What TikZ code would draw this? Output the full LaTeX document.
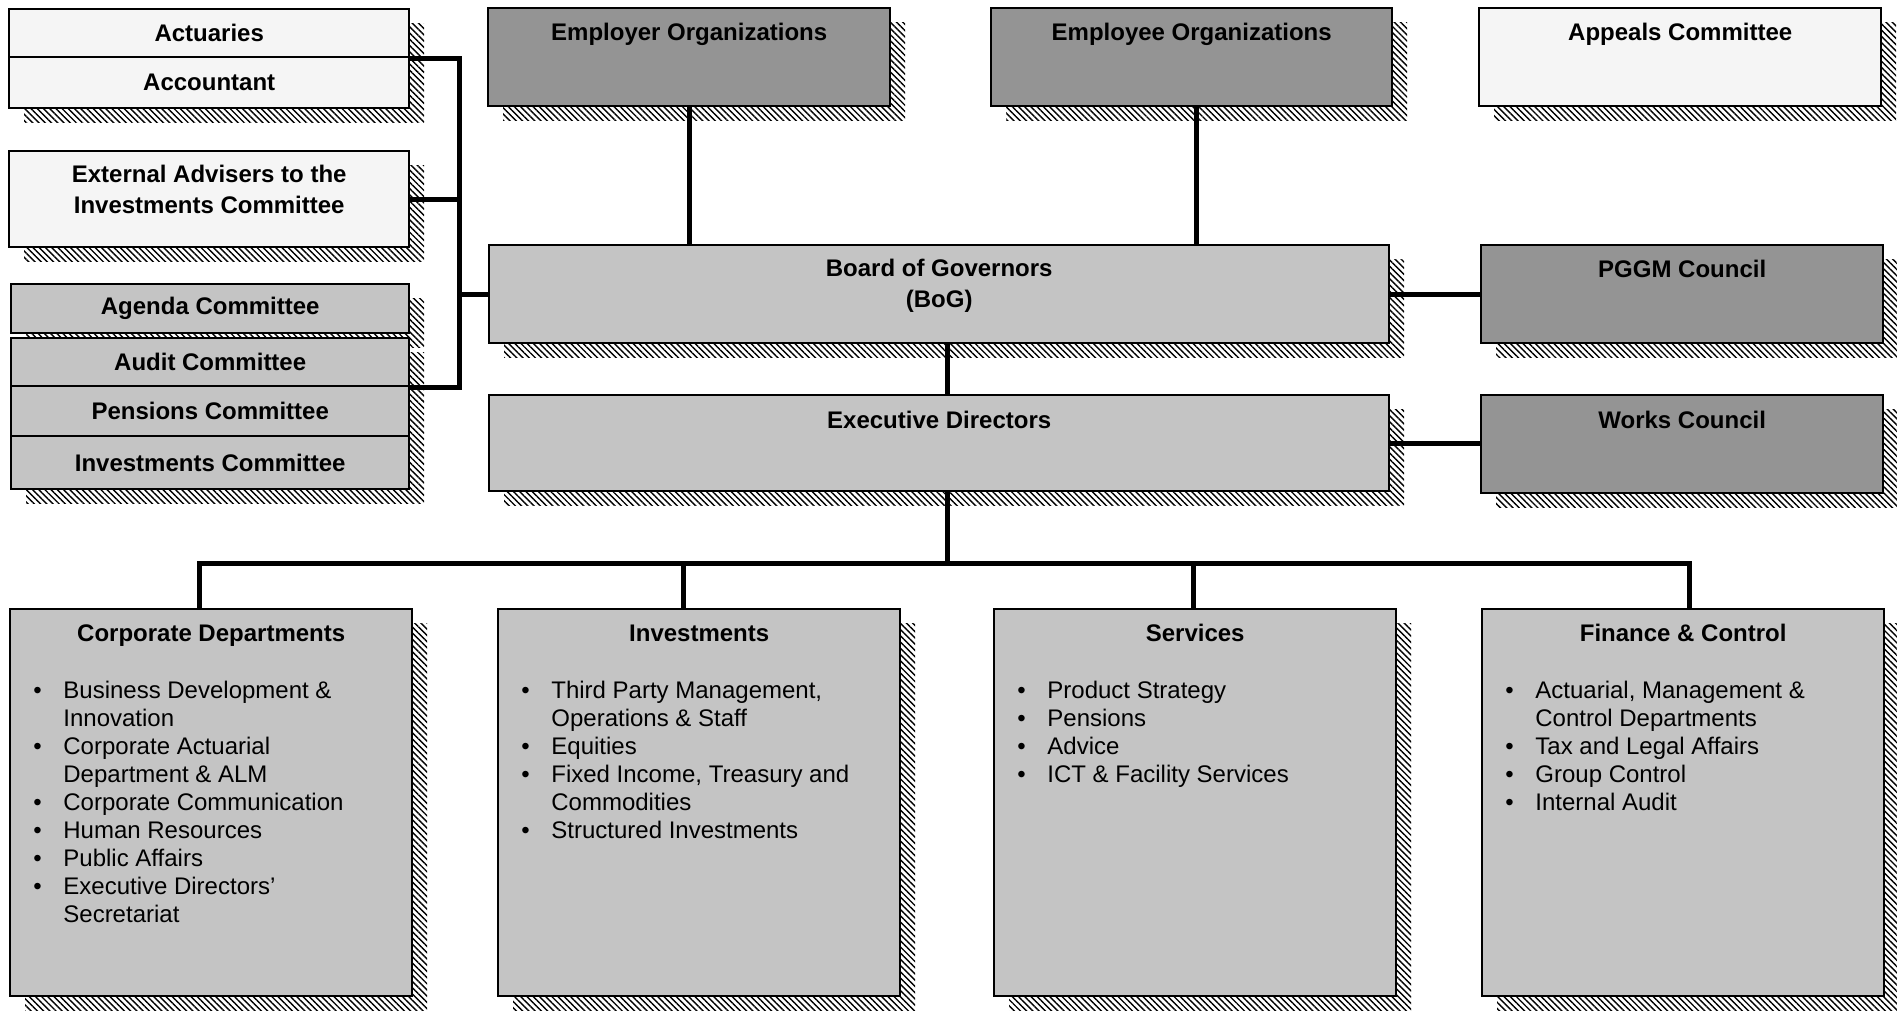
\documentclass[tikz,border=0pt]{standalone}
\usepackage{fontspec}
\setmainfont{Liberation Sans}
\usepackage{tikz}
\usetikzlibrary{positioning, calc, shadows, patterns.meta}
\usepackage{xcolor}

\definecolor{boxwhite}{gray}{0.96}
\definecolor{boxlight}{gray}{0.77}
\definecolor{boxdark}{gray}{0.58}

\newcommand{\deptlist}[1]{\begin{tabular}{@{}l@{\hspace{10.8pt}}l@{}}#1\end{tabular}}

\tikzset{
  every box/.style={draw, line width=1.2pt, inner sep=0pt, anchor=north west,
    drop shadow={shadow xshift=7.5pt, shadow yshift=-7pt, opacity=1,
      pattern={Lines[angle=-45, distance=2.2pt, line width=0.7pt]}}},
  box size/.style 2 args={minimum width=#1*0.5pt, minimum height=#2*0.5pt},
  box white/.style={every box, fill=boxwhite},
  box light/.style={every box, fill=boxlight},
  box dark/.style={every box, fill=boxdark},
  box title/.style={font=\fontsize{12}{15.5}\selectfont\bfseries, inner sep=0pt, align=center},
  item list/.style={inner sep=0pt, anchor=north west},
  link/.style={line width=2.5pt}
}

\begin{document}
\begin{tikzpicture}[x=0.5pt, y=-0.5pt, font=\fontsize{12}{14}\selectfont]

      \useasboundingbox (0,0) rectangle (1897,1011);

      % Advisers and committees on the left
      \node [box white, box size={400}{48}, box title] (actuaries) at (8,8) {Actuaries};
      \node [box white, box size={400}{51}, box title] (accountant) at (8,56) {Accountant};
      \node [box white, box size={400}{96}] (extadv) at (8,150) {};
      \node [box title, anchor=north] (extadv-title) at ([yshift=-7.5pt]extadv.north)
        {External Advisers to the\\Investments Committee};

      \node [box light, box size={398}{49}, box title] (agenda) at (10,283) {Agenda Committee};
      \node [box light, box size={398}{48}, box title] (audit) at (10,337) {Audit Committee};
      \node [box light, box size={398}{50}, box title] (pensions) at (10,385) {Pensions Committee};
      \node [box light, box size={398}{53}, box title] (invcom) at (10,435) {Investments Committee};

      % Organizations and councils
      \node [box dark, box size={402}{98}] (employer) at (487,7) {};
      \node [box dark, box size={401}{98}] (employee) at (990,7) {};
      \node [box white, box size={402}{98}] (appeals) at (1478,7) {};
      \node [box dark, box size={402}{98}] (pggm) at (1480,244) {};
      \node [box dark, box size={402}{98}] (works) at (1480,394) {};

      \node [box light, box size={900}{98}] (board) at (488,244) {};
      \node [box light, box size={900}{96}] (exec) at (488,394) {};

      \foreach \n/\l in {employer/Employer Organizations, employee/Employee Organizations,
                         appeals/Appeals Committee, pggm/PGGM Council, works/Works Council,
                         exec/Executive Directors}
        \node [box title, anchor=base] (\n-title) at ([yshift=-17pt]\n.north) {\l};
      \node [box title, anchor=north] (board-title) at ([yshift=-7.6pt]board.north)
        {Board of Governors\\(BoG)};

      % Departments
      \foreach \dept/\x/\l in {corp/9/Corporate Departments, inv/497/Investments,
                               serv/993/Services, fin/1481/Finance \& Control} {
        \node [box light, box size={402}{387}] (\dept) at (\x,608) {};
        \node [box title, anchor=base] (\dept-title) at ([yshift=-16.5pt]\dept.north) {\l};
      }

      \node [item list] (corp-list) at ([shift={(24,70)}]corp.north west) {\deptlist{
        \textbullet & Business Development \& \\
                    & Innovation \\
        \textbullet & Corporate Actuarial \\
                    & Department \& ALM \\
        \textbullet & Corporate Communication \\
        \textbullet & Human Resources \\
        \textbullet & Public Affairs \\
        \textbullet & Executive Directors' \\
                    & Secretariat}};
      \node [item list] (inv-list) at ([shift={(24,70)}]inv.north west) {\deptlist{
        \textbullet & Third Party Management, \\
                    & Operations \& Staff \\
        \textbullet & Equities \\
        \textbullet & Fixed Income, Treasury and \\
                    & Commodities \\
        \textbullet & Structured Investments}};
      \node [item list] (serv-list) at ([shift={(24,70)}]serv.north west) {\deptlist{
        \textbullet & Product Strategy \\
        \textbullet & Pensions \\
        \textbullet & Advice \\
        \textbullet & ICT \& Facility Services}};
      \node [item list] (fin-list) at ([shift={(24,70)}]fin.north west) {\deptlist{
        \textbullet & Actuarial, Management \& \\
                    & Control Departments \\
        \textbullet & Tax and Legal Affairs \\
        \textbullet & Group Control \\
        \textbullet & Internal Audit}};

      % Draw the connecting lines
      \draw [link] (actuaries.south east) -- ++(49,0) coordinate (bracket) |- (audit.south east);
      \draw [link] (extadv.east) -- (extadv.east -| bracket);
      \draw [link] (board.west) -- (board.west -| bracket);

      \foreach \n/\dx in {employer/0, employee/4.5}
        \draw [link] ([xshift=\dx*0.5pt]\n.south) -- ([xshift=\dx*0.5pt]\n.south |- board.north);

      \draw [link] (board.east) -- (pggm.west);
      \draw [link] (exec.east) -- (exec.east -| works.west);
      \draw [link] ([xshift=4pt]board.south) -- ([xshift=4pt]exec.north);

      \draw [link] ([xshift=4pt]exec.south) -- ++(0,71) coordinate (bus);
      \foreach \dept/\dx in {corp/-12, inv/-16, serv/-2, fin/6}
        \draw [link] ([xshift=\dx*0.5pt]\dept.north) |- (bus);
    \end{tikzpicture}
\end{document}
